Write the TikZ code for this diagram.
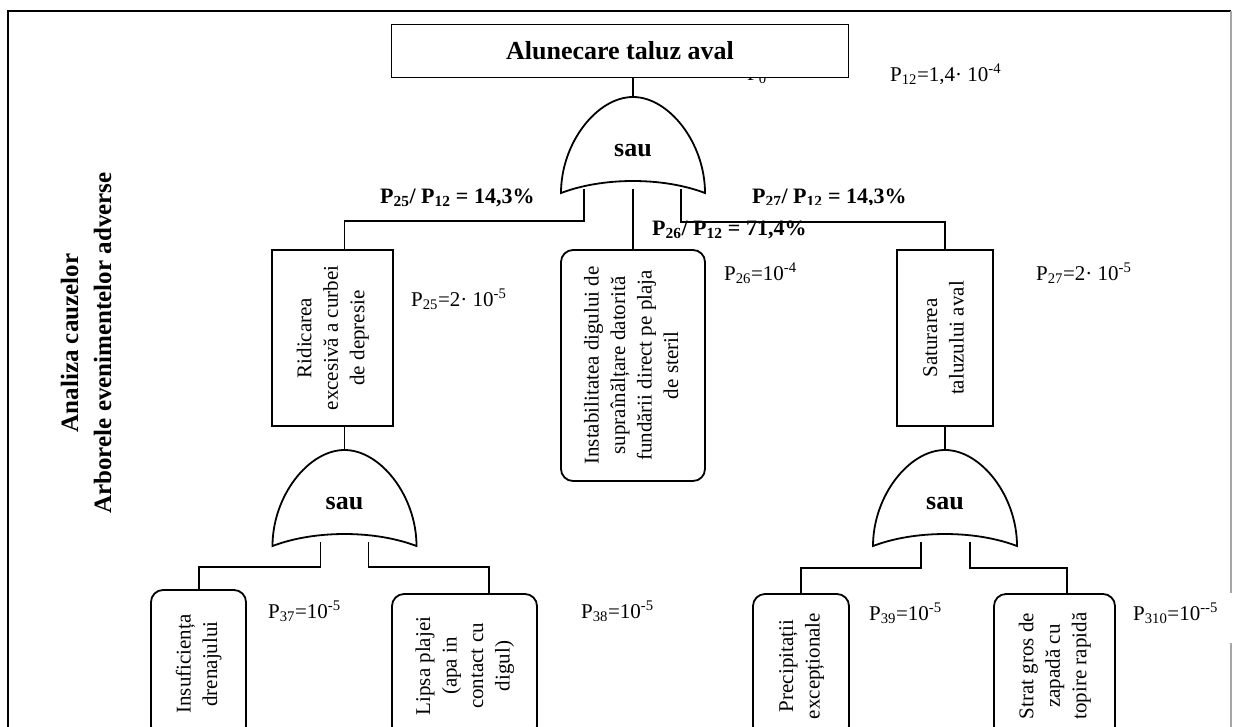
\documentclass[tikz,border=0pt]{standalone}
\usepackage{fontspec}
\setmainfont{Liberation Serif}
\usetikzlibrary{calc}
\tikzset{
  wire/.style={line width=1.8pt},
  evbox/.style={draw, line width=1.8pt, fill=white, inner sep=0pt, outer sep=0pt,
    align=center, font=\fontsize{21}{26.5}\selectfont},
  basebox/.style={evbox, rounded corners=12pt},
  gate/.style={inner sep=0pt, outer sep=0pt, minimum width=144pt, minimum height=96pt},
  gtext/.style={inner sep=0pt, font=\fontsize{26}{30}\selectfont\bfseries},
  prob/.style={anchor=base west, inner sep=0pt, font=\fontsize{21}{25}\selectfont},
  ratio/.style={anchor=base west, inner sep=0pt, font=\fontsize{22}{26}\selectfont\bfseries},
}
% rotated, centred multi-line box text
\newcommand\vtext[1]{\rotatebox{90}{\begin{tabular}{@{}c@{}}#1\end{tabular}}}
% OR gate outline drawn around a gate node
\newcommand\orgate[1]{%
  \draw[wire, fill=white] (#1.south west)
    .. controls ($(#1.south west)+(0,-50)$) and ($(#1.north)+(-36,0)$) .. (#1.north)
    .. controls ($(#1.north)+(36,0)$) and ($(#1.south east)+(0,-50)$) .. (#1.south east)
    .. controls ($(#1.south)+(30,-16)$) and ($(#1.south)+(-30,-16)$) .. cycle;}

\begin{document}
\begin{tikzpicture}[x=1pt,y=-1pt]
\useasboundingbox (0,0) rectangle (1233,726);
\clip (0,0) rectangle (1233,726);

% page frame
\draw[line width=1.8pt] (8,730) -- (8,11) -- (1231,11);
\draw[line width=1.5pt, gray!70] (1231,11) -- (1231,593) (1231,643) -- (1231,730);

% side title
\node[font=\fontsize{25}{33}\selectfont\bfseries, rotate=90, align=center] (title) at (86,343)
  {Analiza cauzelor\\Arborele evenimentelor adverse};

% top event
\node[prob] (p0) at (747,80) {P\textsubscript{0}};
\node[evbox, minimum width=457pt, minimum height=53pt,
      font=\fontsize{26}{30}\selectfont\bfseries] (top) at (620,51) {Alunecare taluz aval};
\node[prob] (p12) at (890,81) {P\textsubscript{12}=1,4· 10\textsuperscript{-4}};

% contribution ratios
\node[ratio] (r25) at (380,203) {P\textsubscript{25}/ P\textsubscript{12} = 14,3\%};
\begin{scope}
  \clip (740,150) rectangle (930,204);
  \node[ratio] (r27) at (752,203) {P\textsubscript{27}/ P\textsubscript{12} = 14,3\%};
\end{scope}
\node[ratio] (r26) at (652,235) {P\textsubscript{26}/ P\textsubscript{12} = 71,4\%};

% gates
\node[gate] (g1) at (633,145) {};
\node[gate] (g2) at (344.5,498) {};
\node[gate] (g3) at (945,498) {};

% gate inputs
\coordinate (g1l) at ($(g1.south)+(-49,-4)$);
\coordinate (g1c) at ($(g1.south)+(0,-4)$);
\coordinate (g1r) at ($(g1.south)+(48,-4)$);
\coordinate (g2l) at ($(g2.south)+(-24,-4)$);
\coordinate (g2r) at ($(g2.south)+(24,-4)$);
\coordinate (g3l) at ($(g3.south)+(-24,-4)$);
\coordinate (g3r) at ($(g3.south)+(25,-4)$);

% branch junctions
\coordinate (j1) at (344.5,221);
\coordinate (j2) at (945,222);
\coordinate (j3) at (199,567);
\coordinate (j4) at (489,567);
\coordinate (j5) at (801,568);
\coordinate (j6) at (1067,568);

% intermediate events
\node[evbox, minimum width=121pt, minimum height=176pt] (r1) at (332.5,338)
  {\vtext{Ridicarea\\excesivă a curbei\\de depresie}};
\node[basebox, minimum width=144pt, minimum height=231pt] (inst) at (633,365.5)
  {\vtext{Instabilitatea digului de\\supraînălțare datorită\\fundării direct pe plaja\\de steril}};
\node[evbox, minimum width=96pt, minimum height=176pt] (sat) at (945,338)
  {\vtext{Saturarea\\taluzului aval}};

% basic events
\node[basebox, minimum width=95pt, minimum height=148pt] (ins) at (198.5,664)
  {\vtext{Insuficiența\\drenajului}};
\node[basebox, minimum width=145pt, minimum height=144pt] (lip) at (464.5,666)
  {\vtext{Lipsa plajei\\(apa in\\contact cu\\digul)}};
\node[basebox, minimum width=96pt, minimum height=144pt] (prec) at (801,666)
  {\vtext{Precipitații\\excepționale}};
\node[basebox, minimum width=121pt, minimum height=144pt] (strat) at (1054.5,666)
  {\vtext{Strat gros de\\zapadă cu\\topire rapidă}};

% connectors
\draw[wire] (top.south -| g1.north) -- (g1.north);
\draw[wire] (g1l) |- (j1) -- (j1 |- r1.north);
\draw[wire] (g1c) -- (inst.north);
\draw[wire] (g1r) |- (j2) -- (sat.north);
\draw[wire] (r1.south -| g2.north) -- (g2.north);
\draw[wire] (g2l) |- (j3) -- (j3 |- ins.north);
\draw[wire] (g2r) |- (j4) -- (j4 |- lip.north);
\draw[wire] (sat.south) -- (g3.north);
\draw[wire] (g3l) |- (j5) -- (prec.north);
\draw[wire] (g3r) |- (j6) -- (j6 |- strat.north);

% gate symbols
\orgate{g1}
\orgate{g2}
\orgate{g3}
\node[gtext] (g1t) at ($(g1)+(0,6)$) {sau};
\node[gtext] (g2t) at ($(g2)+(0,6)$) {sau};
\node[gtext] (g3t) at ($(g3)+(0,6)$) {sau};

% event probabilities
\node[prob] (p25) at (411,306) {P\textsubscript{25}=2· 10\textsuperscript{-5}};
\node[prob] (p26) at (724,280) {P\textsubscript{26}=10\textsuperscript{-4}};
\node[prob] (p27) at (1036,280) {P\textsubscript{27}=2· 10\textsuperscript{-5}};
\node[prob] (p37) at (268,618) {P\textsubscript{37}=10\textsuperscript{-5}};
\node[prob] (p38) at (581,618) {P\textsubscript{38}=10\textsuperscript{-5}};
\node[prob] (p39) at (869,620) {P\textsubscript{39}=10\textsuperscript{-5}};
\node[prob] (p310) at (1133,620) {P\textsubscript{310}=10\textsuperscript{-{}-5}};
\end{tikzpicture}
\end{document}
